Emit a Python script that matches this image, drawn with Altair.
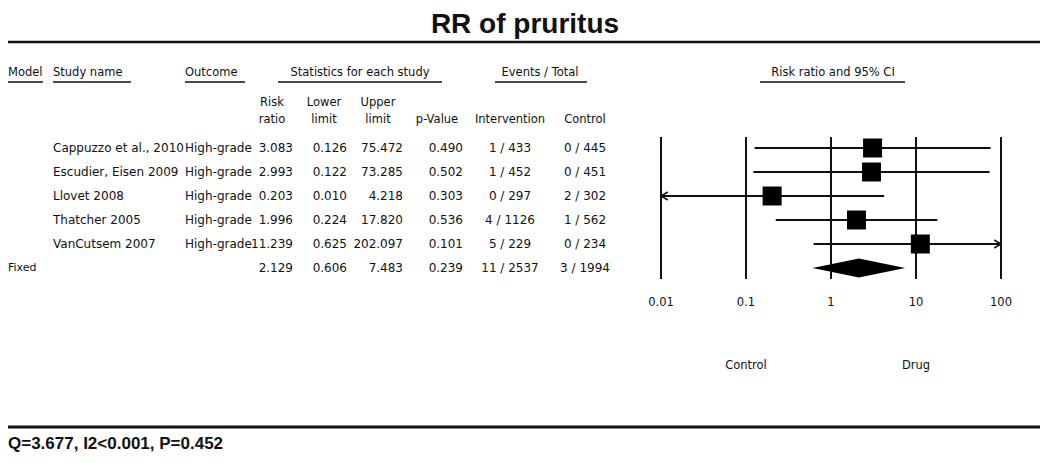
import altair as alt
import pandas as pd

# ---------------- data ----------------
studies = ["Cappuzzo et al., 2010", "Escudier, Eisen 2009", "Llovet 2008",
           "Thatcher 2005", "VanCutsem 2007"]
outcomes = ["High-grade"] * 5
risk_ratio = [3.083, 2.993, 0.203, 1.996, 11.239]
lower_limit = [0.126, 0.122, 0.010, 0.224, 0.625]
upper_limit = [75.472, 73.285, 4.218, 17.820, 202.097]
p_value = [0.490, 0.502, 0.303, 0.536, 0.101]
int_events = [1, 1, 0, 4, 5]
int_total = [433, 452, 297, 1126, 229]
ctl_events = [0, 0, 2, 1, 0]
ctl_total = [445, 451, 302, 562, 234]

fixed_model = "Fixed"
fixed_rr, fixed_lower, fixed_upper, fixed_p = 2.129, 0.606, 7.483, 0.239
fixed_int = (11, 2537)
fixed_ctl = (3, 1994)

axis_ticks = [0.01, 0.1, 1, 10, 100]
axis_labels = ["0.01", "0.1", "1", "10", "100"]
favours = ["Control", "Drug"]
favours_at = [0.1, 10]

title_text = "RR of pruritus"
footer_text = "Q=3.677, I2<0.001, P=0.452"

# ---------------- tables ----------------
n = len(studies)
table = pd.DataFrame({
    "row": list(range(n + 1)),
    "model": [""] * n + [fixed_model],
    "study": studies + [""],
    "outcome": outcomes + [""],
    "rr": risk_ratio + [fixed_rr],
    "lo": lower_limit + [fixed_lower],
    "hi": upper_limit + [fixed_upper],
    "p": p_value + [fixed_p],
    "ev_i": [f"{e} / {t}" for e, t in zip(int_events, int_total)] + [f"{fixed_int[0]} / {fixed_int[1]}"],
    "ev_c": [f"{e} / {t}" for e, t in zip(ctl_events, ctl_total)] + [f"{fixed_ctl[0]} / {fixed_ctl[1]}"],
})

XMIN, XMAX = axis_ticks[0], axis_ticks[-1]
studies_df = table.iloc[:n].copy()
studies_df["lo_c"] = studies_df["lo"].clip(lower=XMIN, upper=XMAX)
studies_df["hi_c"] = studies_df["hi"].clip(lower=XMIN, upper=XMAX)
left_arrows = studies_df[studies_df["lo"] <= XMIN]
right_arrows = studies_df[studies_df["hi"] > XMAX]

DH = 0.4  # diamond half height in row units
diamond = pd.DataFrame({
    "x": [fixed_lower, fixed_rr, fixed_upper],
    "y": [n, n - DH, n],
    "y2": [n, n + DH, n],
})

ticks_df = pd.DataFrame({"v": axis_ticks, "label": axis_labels})
fav_df = pd.DataFrame({"v": favours_at, "t": favours})

# ---------------- layout ----------------
W, H = 1034, 447
FONT = "DejaVu Sans"
BOLD = "Liberation Sans"
INK = "#111111"

xscale = alt.Scale(type="log", domain=[XMIN, XMAX], range=[653, 993], nice=False)
yscale = alt.Scale(domain=[0, n], range=[140, 260], nice=False, zero=False)
Y = alt.Y("row:Q", scale=yscale, axis=None)
ONE = alt.Data(values=[{}])

layers = []


def label(text, x, y, align="center", size=12, font=FONT, weight="normal", baseline="middle"):
    return alt.Chart(ONE).mark_text(
        text=text, align=align, baseline=baseline, font=font, fontSize=size,
        fontWeight=weight, color=INK
    ).encode(x=alt.value(x), y=alt.value(y))


def hline(x1, x2, y, w=1.5):
    return alt.Chart(ONE).mark_rule(color=INK, strokeWidth=w).encode(
        x=alt.value(x1), x2=alt.value(x2), y=alt.value(y))


# title and frame rules
layers.append(label(title_text, 517, 25, size=28, font=BOLD, weight="bold", baseline="alphabetic"))
layers.append(hline(0, 1032, 34, 2.5))
layers.append(hline(0, 1032, 419, 3))
layers.append(label(footer_text, 0, 436, align="left", size=17, font=BOLD, weight="bold"))

# column headers
HY, ULY = 65, 74
for text, x, align, u1, u2 in [
    ("Model", 0, "left", 0, 35),
    ("Study name", 45, "left", 45, 123),
    ("Outcome", 177, "left", 177, 237),
    ("Statistics for each study", 352, "center", 270, 434),
    ("Events / Total", 532, "center", 487, 579),
    ("Risk ratio and 95% CI", 825, "center", 752, 897),
]:
    layers.append(label(text, x, HY, align=align, size=11.5))
    layers.append(hline(u1, u2, ULY, 1.5))

S1, S2 = 95, 112
for top, bottom, x in [
    ("Risk", "ratio", 264),
    ("Lower", "limit", 316),
    ("Upper", "limit", 370),
    ("", "p-Value", 429),
    ("", "Intervention", 502),
    ("", "Control", 577),
]:
    if top:
        layers.append(label(top, x, S1, size=11.5))
    layers.append(label(bottom, x, S2, size=11.5))


# table body
def col(field, x, align, fmt=None, size=12):
    text = alt.Text(f"{field}:Q", format=fmt) if fmt else alt.Text(f"{field}:N")
    return alt.Chart(table).mark_text(
        align=align, baseline="middle", font=FONT, fontSize=size, color=INK
    ).encode(x=alt.value(x), y=Y, text=text)


layers += [
    col("model", 0, "left", size=11),
    col("study", 45, "left"),
    col("outcome", 177, "left"),
    col("rr", 285, "right", ".3f"),
    col("lo", 339, "right", ".3f"),
    col("hi", 395, "right", ".3f"),
    col("p", 455, "right", ".3f"),
    col("ev_i", 502, "center"),
    col("ev_c", 577, "center"),
]

# forest plot
layers.append(alt.Chart(ticks_df).mark_rule(color=INK, strokeWidth=2).encode(
    x=alt.X("v:Q", scale=xscale, axis=None), y=alt.value(129), y2=alt.value(271)))
layers.append(alt.Chart(ticks_df).mark_text(font=FONT, fontSize=11.5, color=INK, baseline="middle").encode(
    x=alt.X("v:Q", scale=xscale, axis=None), y=alt.value(295), text="label:N"))
layers.append(alt.Chart(fav_df).mark_text(font=FONT, fontSize=11.5, color=INK, baseline="middle").encode(
    x=alt.X("v:Q", scale=xscale, axis=None), y=alt.value(358), text="t:N"))

layers.append(alt.Chart(studies_df).mark_rule(color=INK, strokeWidth=2).encode(
    x=alt.X("lo_c:Q", scale=xscale, axis=None), x2="hi_c:Q", y=Y))
layers.append(alt.Chart(left_arrows).mark_point(
    shape="M 1.7 -1 L 0 0 L 1.7 1", filled=False, stroke=INK, strokeWidth=1.5, size=64, opacity=1
).encode(x=alt.X("lo_c:Q", scale=xscale, axis=None), y=Y))
layers.append(alt.Chart(right_arrows).mark_point(
    shape="M -1.7 -1 L 0 0 L -1.7 1", filled=False, stroke=INK, strokeWidth=1.5, size=64, opacity=1
).encode(x=alt.X("hi_c:Q", scale=xscale, axis=None), y=Y))
layers.append(alt.Chart(studies_df).mark_square(color="black", size=361, opacity=1).encode(
    x=alt.X("rr:Q", scale=xscale, axis=None), y=Y))
layers.append(alt.Chart(diamond).mark_area(color="black", orient="vertical", interpolate="linear").encode(
    x=alt.X("x:Q", scale=xscale, axis=None),
    y=alt.Y("y:Q", scale=yscale, axis=None), y2="y2:Q"))

chart = alt.layer(*layers).properties(
    width=W, height=H, padding=0, autosize=alt.AutoSizeParams(type="none"),
    background="white",
).configure_view(stroke=None)

chart.save("out.html", embed_options={"renderer": "svg", "actions": False})
